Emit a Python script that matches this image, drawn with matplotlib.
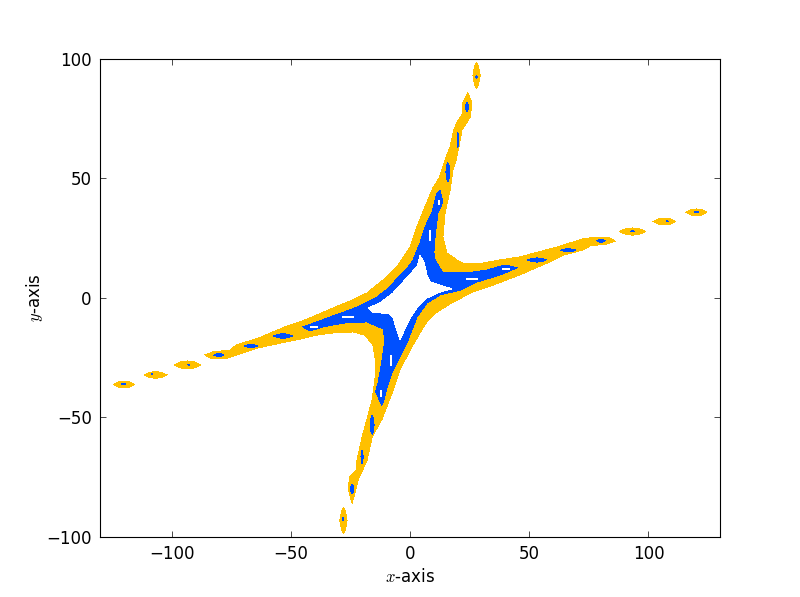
import matplotlib
matplotlib.use('Agg')
import matplotlib.pyplot as plt

plt.rcParams['mathtext.fontset'] = 'cm'

# outline of the big orange region, data units
orange_x = [0, 2.9, 6.3, 9.6, 12.4, 14.7, 16.8, 18.4, 19.7, 21.8, 22.2, 24.3, 26, 25.2, 23.9, 21.8, 20.5, 19.3,
            18, 16.8, 14.7, 13.8, 15.5, 19.7, 22.2, 30.6, 37.7, 46.1, 61.6, 72.5, 77.7, 83.1, 86, 82.7, 75.5,
            72.5, 64.1, 57.4, 46.1, 34.8, 26.4, 18, 11.3, 7, 4.2, 0, -4.2, -7.5, -11.7, -15.9, -18, -21.8,
            -23.1, -24.3, -26, -25.2, -22.6, -22.2, -20.1, -18, -15.9, -14.7, -14.3, -15.5, -18.9, -23.9,
            -32.3, -39, -46.1, -57.4, -64.1, -72.5, -77.7, -83, -86, -82.7, -75.5, -72.5, -64.1, -52.4,
            -46.1, -39, -32.3, -25.2, -18, -11.3, -5.5]
orange_y = [21.3, 29.7, 38.1, 46, 50.5, 57.7, 63.2, 70.3, 73.6, 76.6, 81.6, 85.8, 81.6, 75.7, 73.6, 70.3, 63.2, 57.7,
            53.6, 45.2, 35.6, 25.5, 18.8, 15.9, 14.6, 14.6, 15.9, 17.2, 21.3, 24.7, 25.5, 25.5, 23.8, 22.6, 21.8,
            20.1, 17.9, 14.6, 9.7, 5.4, 2.5, -1.7, -5.9, -10, -14.6, -21.8, -30.1, -39.7, -50.6, -58.2, -67.8, -76.2,
            -81.6, -85.8, -79.5, -74.9, -72, -67.8, -58.2, -50.6, -42.7, -34.3, -27.2, -19.7, -15.5, -14.2,
            -14.6, -15.5, -17.2, -19.5, -21, -23.8, -25.5, -25.5, -23.8, -22.6, -21.8, -19.5, -17, -12.1,
            -10, -7.1, -4.2, -1.3, 2.1, 7.5, 13]

# blue band
blue_x = [12.6, 13.8, 11.7, 10.5, 10, 10.5, 13.8, 23.9, 32.3, 39.8, 44.9, 37.7, 28.1, 21, 12.6, 7.1, 2.9, -0.8,
          -4.2, -7.1, -9.6, -11.3, -11.9, -14.4, -13.4, -11.9, -10.5, -11.3, -18, -28.1, -36.5, -42, -44.9,
          -39, -32.3, -25.2, -20.1, -13.8, -8.4, -4.2, -1.3, 1.3, 4.2, 6.3, 9.2, 11.3]
blue_y = [44.8, 40.2, 35.6, 25.5, 18.8, 15.9, 10.5, 10.5, 11.7, 13.8, 12.6, 9.6, 6.7, 3.3, 1.3, -2.1, -8, -17.5,
          -24.7, -30.1, -37.2, -43.9, -44.8, -39.2, -35.6, -27.2, -17.6, -12.9, -10, -10.5, -12.1, -13.8, -12.1,
          -10, -7.5, -5, -2.9, 0.4, 4.6, 9.6, 12.1, 15.9, 23, 29.7, 35.6, 43.9]

# empty middle
hole_x = [4.2, 5.9, 7.1, 8.4, 17.6, 12.6, 7.1, 2.9, 0, -2.9, -4.2, -5.5, -7.1, -8.4, -15.5, -17.6,
          -12.6, -7.1, -2.9, 0, 2.9]
hole_y = [17.6, 15, 9.6, 6.7, 3.8, 2.5, 0, -4.2, -8.4, -14.6, -17.2, -13.4, -8.4, -6.7, -5.9, -4.2,
          -2.1, 2.1, 6.7, 10, 13]

# detached orange islands
island_x = [27.9, -27.9, 93.3, 106.7, 120.1, -120.1, -106.7, -93.3]
island_y = [93.1, -93.1, 27.8, 32, 35.8, -36.2, -32.2, -28]
island_w = [3, 3, 11.3, 9.6, 8.8, 8.8, 9.6, 11.3]
island_h = [10.5, 10.5, 3, 2.9, 2.9, 2.9, 2.8, 3.3]

# blue cores of the islands
core_x = [23.9, 20.1, 15.9, 27.9, 53.2, 66.4, 80.1, 93.3, 107.8, 120.3,
          -120.3, -108.2, -92.7, -80.1, -66.7, -53.2, -15.9, -20.1, -24.3, -28.1]
core_y = [79.9, 66.1, 52.7, 92.5, 15.9, 20, 23.9, 27.9, 32.2, 36,
          -36, -31.8, -28, -23.9, -20.1, -15.9, -53.1, -66.5, -79.9, -92.5]
core_w = [1.4, 0.7, 1.7, 0.5, 7.7, 6.3, 3.5, 2, 0.8, 1.7,
          1.7, 0.4, 0.8, 4.2, 5.3, 7.7, 1.7, 0.9, 1.4, 0.5]
core_h = [4, 5.9, 7.7, 1.5, 1.7, 1.2, 1.1, 0.4, 0.4, 0.7,
          0.5, 0.5, 0.5, 1.2, 1.2, 1.9, 7.7, 5.6, 4, 1.5]

# white slits inside the blue band
slit_x0 = [8.2, 12.2, 23.5, 38.5, -28.5, -8, -12.2, -42]
slit_x1 = [8.2, 12.2, 28.5, 42, -23.5, -8, -12.2, -38.5]
slit_y0 = [23.8, 39, 8, 12, -8, -28.5, -41.5, -12]
slit_y1 = [28.5, 41, 8, 12, -8, -24, -38.5, -12]

ORANGE = '#ffc000'
BLUE = '#0050ff'


def lens(ax, x, y, w, h, color):
    """pointed blob centred on x, y, the islands are not true ellipses"""
    xs = [x - w / 2, x - w / 4, x, x + w / 4, x + w / 2, x + w / 4, x, x - w / 4]
    ys = [y, y + 0.38 * h, y + h / 2, y + 0.38 * h, y, y - 0.38 * h, y - h / 2, y - 0.38 * h]
    ax.fill(xs, ys, color=color, lw=0, antialiased=False)


fig = plt.figure(figsize=(8, 5.97), dpi=100)
ax = fig.add_axes([0.125, 0.1005, 0.775, 0.8007])

ax.fill(orange_x, orange_y, color=ORANGE, lw=0, antialiased=False)
for x, y, w, h in zip(island_x, island_y, island_w, island_h):
    lens(ax, x, y, w, h, ORANGE)
ax.fill(blue_x, blue_y, color=BLUE, lw=0, antialiased=False)
for x, y, w, h in zip(core_x, core_y, core_w, core_h):
    lens(ax, x, y, w, h, BLUE)
ax.fill(hole_x, hole_y, color='white', lw=0, antialiased=False)
for x0, x1, y0, y1 in zip(slit_x0, slit_x1, slit_y0, slit_y1):
    ax.plot([x0, x1], [y0, y1], color='white', lw=1.3, solid_capstyle='butt', antialiased=False)

ax.set_xlim(-130, 130)
ax.set_ylim(-100, 100)
ax.set_xticks([-100, -50, 0, 50, 100])
ax.set_yticks([-100, -50, 0, 50, 100])
ax.tick_params(direction='in', top=True, right=True, length=4, width=0.5, labelsize=12, pad=6)
ax.set_xlabel(r'$x$-axis', fontsize=12, labelpad=3)
ax.set_ylabel(r'$y$-axis', fontsize=12, labelpad=1)

fig.savefig('out.png', dpi=100)
